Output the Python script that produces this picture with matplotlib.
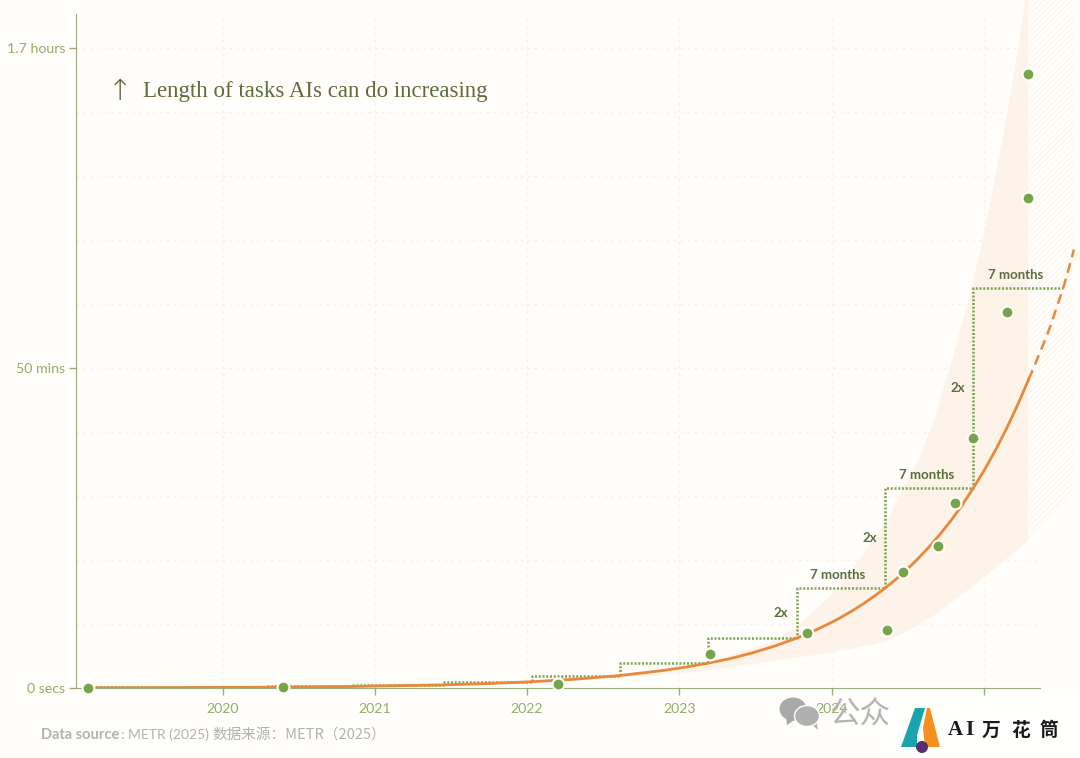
#Longitud de tareas que las IA pueden completar (METR 2025)
import matplotlib
matplotlib.use("Agg")
import matplotlib.pyplot as plt
from matplotlib.patches import Polygon, Circle, Ellipse, Rectangle

BG = "#fffefa"
GREEN = "#76a34c"
AXIS = "#99ad7a"
TICK = "#8fae68"
DARK = "#5a6e3e"
ORANGE = "#e8883a"
BAND = "#fdf3e8"
GRID = "#f3f2ec"

plt.rcParams["hatch.linewidth"] = 0.7

#Datos: anios decimales y minutos
year_ticks = [2020, 2021, 2022, 2023, 2024, 2025]
year_labels = ["2020", "2021", "2022", "2023", "2024", "2025"]
min_ticks = [0, 50, 100]
min_labels = ["0 secs", "50 mins", "1.7 hours"]
grid_mins = [10, 20, 30, 40, 50, 60, 70, 80, 90, 100]

pt_x = [2019.12, 2020.40, 2022.20, 2023.20, 2023.84, 2024.36, 2024.47, 2024.70, 2024.81, 2024.93, 2025.15, 2025.29, 2025.29]
pt_y = [0.0, 0.08, 0.6, 5.3, 8.6, 9.1, 18.1, 22.2, 28.9, 39.0, 58.8, 76.5, 95.9]

trend_x = [2019.12, 2019.70, 2020.29, 2020.86, 2021.45, 2021.74, 2022.03, 2022.32, 2022.61, 2022.90, 2023.05, 2023.19,
           2023.335, 2023.48, 2023.625, 2023.77, 2023.8425, 2023.915, 2023.9875, 2024.06, 2024.1325, 2024.205, 2024.2775, 2024.35,
           2024.4225, 2024.495, 2024.5675, 2024.64, 2024.7125, 2024.785, 2024.8575, 2024.93, 2025.0025, 2025.075, 2025.1475,
           2025.22, 2025.2925]
trend_y = [0.03, 0.06, 0.12, 0.24, 0.49, 0.69, 0.98, 1.38, 1.95, 2.76, 3.3, 3.9,
           4.6, 5.5, 6.55, 7.8, 8.51, 9.28, 10.12, 11.03, 12.03, 13.12, 14.31, 15.6,
           17.01, 18.55, 20.23, 22.06, 24.06, 26.24, 28.62, 31.25, 34.08, 37.16, 40.53,
           44.2, 48.2]
proj_x = [2025.2925, 2025.33, 2025.37, 2025.41, 2025.445, 2025.48, 2025.52, 2025.555, 2025.59]
proj_y = [48.2, 50.3, 52.6, 54.9, 57.2, 59.7, 62.5, 65.4, 68.5]

step_x = [2019.12, 2020.29, 2020.86, 2021.45, 2022.03, 2022.61, 2023.19, 2023.77, 2024.35, 2024.93, 2025.52]
step_y = [0.12, 0.24, 0.49, 0.98, 1.95, 3.9, 7.8, 15.6, 31.25, 62.5, 62.5]

upper_x = [2022.61, 2023.135, 2023.575, 2023.772, 2024.009, 2024.14, 2024.363, 2024.56, 2024.665, 2024.796, 2024.888, 2024.993, 2025.07, 2025.157, 2025.223, 2025.27, 2025.29]
upper_y = [1.95, 3.6, 6.9, 9.5, 14.8, 18.75, 26.25, 35.2, 41.4, 51.7, 59.8, 70.0, 79.4, 90.3, 99.7, 107.5, 107.5]
lower_x = [2025.287, 2025.138, 2024.993, 2024.829, 2024.665, 2024.514, 2024.363, 2024.186, 2024.009, 2023.79, 2023.575, 2023.352, 2023.135, 2022.61]
lower_y = [23.0, 20.0, 17.2, 14.1, 11.25, 9.1, 7.3, 6.4, 5.6, 4.8, 4.1, 3.3, 2.5, 1.7]
hatch_x = [2025.29, 2025.59, 2025.59, 2025.29]
hatch_y = [107.5, 107.5, 30.5, 23.0]

month_x = [2024.04, 2024.626, 2025.21]
month_y = [17.66, 33.3, 64.5]
double_x = [2023.667, 2024.25, 2024.83]
double_y = [11.7, 23.4, 46.9]

fig = plt.figure(figsize=(10.8, 7.58), dpi=100, facecolor=BG)
ax = fig.add_axes([76/1080, 1-688/758, (1080-76)/1080, 688/758], facecolor=BG)
ax.set_xlim(2019.0381, 2025.63)
ax.set_ylim(0, 107.5)

for s in ["top", "right"]:
	ax.spines[s].set_visible(False)
ax.spines["left"].set_color(AXIS)
ax.spines["bottom"].set_color(AXIS)
ax.spines["left"].set_bounds(0, 105.3)
ax.spines["bottom"].set_bounds(2019.0381, 2025.37)

ax.set_xticks(year_ticks)
ax.set_xticklabels(year_labels)
ax.set_yticks(min_ticks)
ax.set_yticklabels(min_labels)
ax.tick_params(axis="both", color=AXIS, labelcolor=TICK, length=5, width=1, labelsize=10.2, pad=3, labelfontfamily="Lato")
ax.tick_params(axis="x", pad=6)

#Rejilla
ax.hlines(grid_mins, 2019.0381, 2025.37, color=GRID, lw=1, ls=(0, (2, 3)), zorder=1)
ax.vlines(year_ticks, 0, 105.3, color=GRID, lw=1, ls=(0, (2, 3)), zorder=1)

#Banda de incertidumbre
ax.fill(upper_x + lower_x, upper_y + lower_y, color=BAND, lw=0, zorder=2)
ax.fill(hatch_x, hatch_y, facecolor=BG, edgecolor="#fdf4ea", hatch="//////", lw=0, zorder=2)

#Escalones y tendencia
ax.step(step_x, step_y, where="post", color=GREEN, lw=1.8, ls=(0, (0.8, 0.7)), zorder=3)
ax.plot(trend_x, trend_y, color=ORANGE, lw=2, zorder=4)
ax.plot(proj_x, proj_y, color=ORANGE, lw=1.8, ls=(0, (4, 2.5)), zorder=4)
ax.plot(pt_x, pt_y, "o", color=GREEN, ms=8.5, mec=BG, mew=1.5, zorder=5, clip_on=False)

for xv, yv in zip(month_x, month_y):
	ax.text(xv, yv, "7 months", color=DARK, fontsize=9.5, fontweight="bold", family="Lato", ha="center", va="center")
for xv, yv in zip(double_x, double_y):
	ax.text(xv, yv, "2x", color=DARK, fontsize=9.5, fontweight="bold", family="Lato", ha="center", va="center")

#Capa para textos sueltos y marca de agua, en pixeles
top = fig.add_axes([0, 0, 1, 1], facecolor="none", zorder=10)
top.set_xlim(0, 1080)
top.set_ylim(758, 0)
top.axis("off")

top.text(120, 92, "↑", color=DARK, fontsize=21, family="DejaVu Sans", ha="center", va="center", fontweight="light")
top.text(143, 91, "Length of tasks AIs can do increasing", color=DARK, fontsize=16.5, family="Liberation Serif", va="center")

top.text(41, 735, "Data source", color="#b3b3ad", fontsize=10.5, fontweight="bold", family="Lato", va="center")
top.text(121, 735, ": METR (2025)", color="#b3b3ad", fontsize=10, family="Lato", va="center")
top.text(212, 735, "数据来源：METR（2025）", color="#b3b3ad", fontsize=10.5,
	family=["Noto Sans CJK SC", "Lato"], va="center")

#Marca de agua
top.add_patch(Polygon([(786, 716), (787, 725), (796, 719)], color="#a9a9a9", lw=0))
top.add_patch(Ellipse((793, 709), 27, 23, color="#a9a9a9", lw=0))
top.add_patch(Polygon([(810, 723), (818, 730), (816, 720)], color="#b0b0b0", lw=0))
top.add_patch(Ellipse((807, 716), 25, 21, facecolor="#b0b0b0", edgecolor=BG, lw=1))
top.text(829, 715, "公众", color="#b4b4b4", fontsize=22, family="Noto Sans CJK SC", va="center")
top.add_patch(Rectangle((880, 697), 200, 61, color="#fffffd", lw=0))
top.add_patch(Polygon([(915, 708), (925, 708), (917, 735), (917, 747), (901, 747)], color="#1ba3ad", lw=0))
top.add_patch(Polygon([(927, 708), (930, 708), (940, 747), (925, 747), (923, 728)], color="#f4911e", lw=0))
top.add_patch(Circle((922, 747), 6, color="#5a2d6e", lw=0))
top.text(955, 730, "A", color="#1a1a1a", fontsize=15, fontweight="bold", family="Liberation Serif", ha="center", va="center")
top.text(969, 730, "I", color="#1a1a1a", fontsize=15, fontweight="bold", family="Liberation Serif", ha="center", va="center")
top.text(991, 730, "万", color="#1a1a1a", fontsize=13.5, fontweight="bold", family="Noto Sans CJK SC", ha="center", va="center")
top.text(1021, 730, "花", color="#1a1a1a", fontsize=13.5, fontweight="bold", family="Noto Sans CJK SC", ha="center", va="center")
top.text(1049, 730, "筒", color="#1a1a1a", fontsize=13.5, fontweight="bold", family="Noto Sans CJK SC", ha="center", va="center")

plt.savefig("out.png", dpi=100, facecolor=BG)
